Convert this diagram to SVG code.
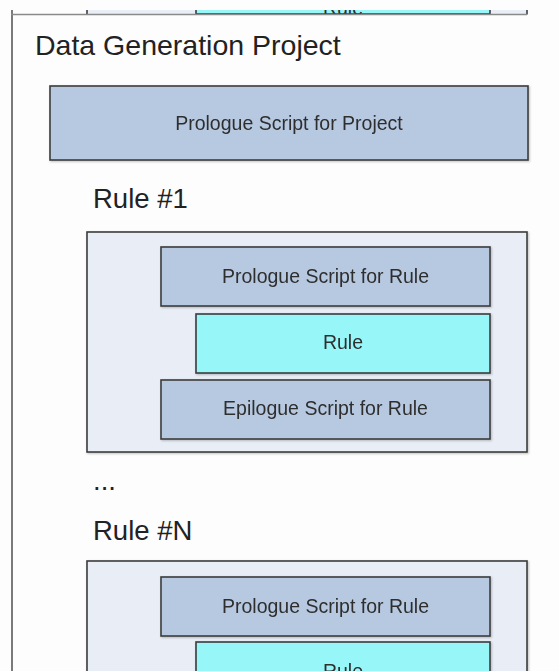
<svg xmlns="http://www.w3.org/2000/svg" width="559" height="671" viewBox="0 0 559 671">
  <style>
    .frame { fill: none; stroke: #7a7a7a; stroke-width: 2; }
    .rulebox { fill: #e9edf6; stroke: #3c3c3c; stroke-width: 1.6; }
    .script { fill: #b7c9e1; stroke: #3c3c3c; stroke-width: 1.6; }
    .rule { fill: #96f6f8; stroke: #3c3c3c; stroke-width: 1.6; }
    .heading { font-family: "Liberation Sans", Arial, sans-serif; font-size: 27.5px; fill: #222; }
    .label { font-family: "Liberation Sans", Arial, sans-serif; font-size: 19.5px; fill: #2e2e2e; text-anchor: middle; }
  </style>
  <defs>
    <filter id="shadow" x="-5%" y="-5%" width="112%" height="125%">
      <feDropShadow dx="1" dy="1" stdDeviation="0.8" flood-color="#000" flood-opacity="0.25"/>
    </filter>
    <clipPath id="upperCut">
      <rect x="0" y="10" width="559" height="4.5"/>
    </clipPath>
  </defs>

  <rect x="0" y="0" width="559" height="671" fill="#fdfdfd"/>

  <!-- tail of the preceding rule section, cut off at the top edge -->
  <g id="previous-rule" clip-path="url(#upperCut)">
    <rect class="rulebox" x="87" y="-60" width="440" height="90"/>
    <rect class="rule" x="196" y="-50" width="294" height="64"/>
    <text class="label" x="343" y="14.5">Rule</text>
  </g>

  <!-- project frame -->
  <g id="project-frame">
    <line class="frame" x1="12" y1="10" x2="12" y2="671"/>
    <line x1="11" y1="14.5" x2="527" y2="14.5" stroke="#8a8a8a" stroke-width="1.5"/>
    <text class="heading" x="35" y="55" style="font-size:28.5px">Data Generation Project</text>
  </g>

  <g id="project-prologue" filter="url(#shadow)">
    <rect class="script" x="50" y="86" width="478" height="74"/>
    <text class="label" x="289" y="130">Prologue Script for Project</text>
  </g>

  <!-- Rule #1 -->
  <g id="rule-1">
    <text class="heading" x="93" y="208">Rule #1</text>
    <rect class="rulebox" x="87" y="232" width="440" height="220" filter="url(#shadow)"/>
  </g>
  <g id="rule-1-prologue" filter="url(#shadow)">
    <rect class="script" x="161" y="247" width="329" height="59"/>
    <text class="label" x="325.5" y="283">Prologue Script for Rule</text>
  </g>
  <g id="rule-1-rule" filter="url(#shadow)">
    <rect class="rule" x="196" y="314" width="294" height="59"/>
    <text class="label" x="343" y="349">Rule</text>
  </g>
  <g id="rule-1-epilogue" filter="url(#shadow)">
    <rect class="script" x="161" y="380" width="329" height="59"/>
    <text class="label" x="325.5" y="415">Epilogue Script for Rule</text>
  </g>

  <text class="heading" x="93" y="490">...</text>

  <!-- Rule #N -->
  <g id="rule-n">
    <text class="heading" x="93" y="540">Rule #N</text>
    <rect class="rulebox" x="87" y="561" width="440" height="220" filter="url(#shadow)"/>
  </g>
  <g id="rule-n-prologue" filter="url(#shadow)">
    <rect class="script" x="161" y="577" width="329" height="59"/>
    <text class="label" x="325.5" y="613">Prologue Script for Rule</text>
  </g>
  <g id="rule-n-rule" filter="url(#shadow)">
    <rect class="rule" x="196" y="642" width="294" height="59"/>
    <text class="label" x="343" y="678">Rule</text>
  </g>

  <g id="connectors"/>
</svg>
